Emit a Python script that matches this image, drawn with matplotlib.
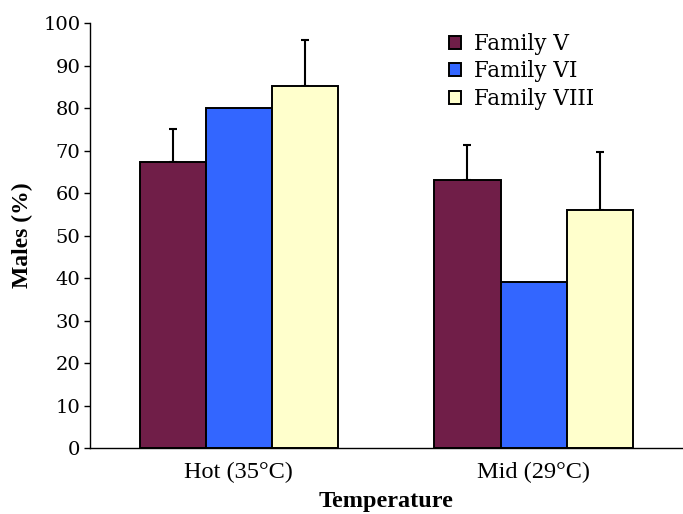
import matplotlib
matplotlib.use('Agg')
import matplotlib.pyplot as plt
import numpy as np

# Percentage of males per family at each incubation temperature
temperatures = ['Hot (35°C)', 'Mid (29°C)']
families = ['Family V', 'Family VI', 'Family VIII']
males_v = [67.2, 63.0]
males_vi = [80.0, 39.0]
males_viii = [85.2, 56.0]
err_v = [7.9, 8.3]
err_vi = [0.0, 0.0]
err_viii = [10.8, 13.7]

colors = ['#701e48', '#3366ff', '#ffffcc']
bar_width = 0.224

fig = plt.figure(figsize=(6.83, 5.14), dpi=100)
ax = fig.add_axes([0.1318, 0.1284, 0.8672, 0.8268])

x = np.arange(len(temperatures))
series = [(males_v, err_v), (males_vi, err_vi), (males_viii, err_viii)]
for i, (vals, errs) in enumerate(series):
    pos = x + (i - 1) * bar_width
    ax.bar(pos, vals, width=bar_width, color=colors[i], edgecolor='black',
           linewidth=1.4, label=families[i], zorder=2)
    mask = np.array(errs) > 0
    if mask.any():
        ax.errorbar(pos[mask], np.array(vals)[mask],
                    yerr=[np.zeros(mask.sum()), np.array(errs)[mask]],
                    fmt='none', ecolor='black', elinewidth=1.5, capsize=3,
                    capthick=1.5, zorder=1)

ax.set_xlim(-0.505, 1.505)
ax.set_ylim(0, 100)
ax.set_yticks(np.arange(0, 101, 10))
ax.set_yticklabels([str(v) for v in range(0, 101, 10)], family='DejaVu Serif', fontsize=14)
ax.set_xticks(x)
ax.set_xticklabels(temperatures, family='Liberation Serif', fontsize=17.5)
ax.tick_params(axis='x', length=0, pad=10)
ax.tick_params(axis='y', direction='out', length=4, width=1, pad=3)

for side in ['top', 'right']:
    ax.spines[side].set_visible(False)
ax.spines['left'].set_linewidth(1)
ax.spines['bottom'].set_linewidth(1)

ax.set_ylabel('Males (%)', family='Liberation Serif', fontweight='bold', fontsize=17, labelpad=7)
ax.set_xlabel('Temperature', family='Liberation Serif', fontweight='bold', fontsize=17.5, labelpad=6)

ax.legend(loc='upper left', bbox_to_anchor=(0.574, 1.022), frameon=False,
          prop={'family': 'DejaVu Serif', 'size': 15.5},
          handlelength=0.55, handleheight=0.55, handletextpad=0.6, labelspacing=0.25)

fig.savefig('out.png', dpi=100)
